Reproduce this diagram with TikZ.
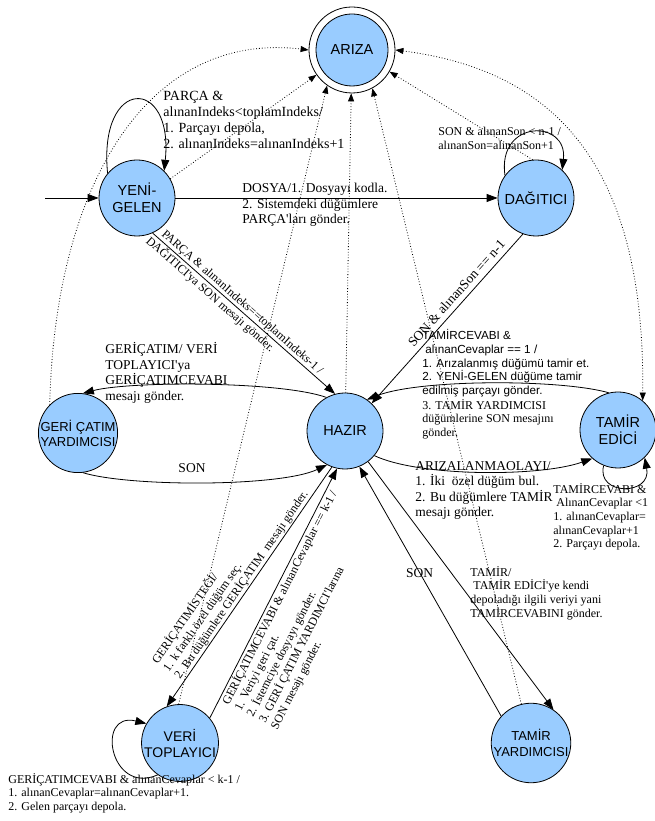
\documentclass[tikz,border=0pt]{standalone}
\usepackage{fontspec}
\setmainfont{Liberation Serif}
\setsansfont{Liberation Sans}
\usepackage{tikz}
\usetikzlibrary{arrows.meta}
\definecolor{stfill}{RGB}{153,204,255}
\def\ap{\textquotesingle}

\begin{document}
\begin{tikzpicture}[x=1pt,y=1pt,line width=0.8pt,
  state/.style={circle, draw, fill=stfill, minimum size=76pt, inner sep=0pt, align=center,
                font=\sffamily\fontsize{14.5}{16.5}\selectfont},
  arr/.style={-{Triangle[length=11pt,width=8pt]}},
  fail/.style={dotted, -{Triangle[length=8pt,width=6pt]}},
  lbl/.style={align=left, inner sep=0pt, font=\fontsize{13.5}{15.5}\selectfont},
  slbl/.style={align=left, inner sep=0pt, font=\fontsize{12}{13.6}\selectfont}]
  \useasboundingbox (0,0) rectangle (655,821);

  %% States
  \node[circle, draw, minimum size=86pt, inner sep=0pt] (ariza) at (352,771) {};
  \node[state, minimum size=72pt] (arizain) at (ariza) {ARIZA};
  \node[state] (yeni) at (137,623) {YENİ-\\GELEN};
  \node[state] (dagitici) at (536,623) {DAĞITICI};
  \node[state] (hazir) at (345,390) {HAZIR};
  \node[state, font=\sffamily\fontsize{13}{15}\selectfont] (geri) at (78,388) {GERİ ÇATIM\\YARDIMCISI};
  \node[state] (tamir) at (618,391) {TAMİR\\EDİCİ};
  \node[state, font=\sffamily\fontsize{14}{16}\selectfont] (veri) at (180,78) {VERİ\\TOPLAYICI};
  \node[state, font=\sffamily\fontsize{13}{16}\selectfont] (tamiry) at (531,78) {TAMİR\\YARDIMCISI};

  %% Start
  \coordinate (init) at (45,623);
  \draw[arr] (init) -- (yeni);

  %% YENİ-GELEN
  \draw[arr] (yeni.140) .. controls (98,745) and (174,745) .. (yeni.45);
  \node[lbl, font=\fontsize{14}{16}\selectfont, anchor=north west] (lyeni) at (163,730)
    {PARÇA \&\\alınanIndeks<toplamIndeks/\\1. Parçayı depola,\\2. alınanIndeks=alınanIndeks+1};
  \draw[arr] (yeni) -- (dagitici);
  \node[lbl, anchor=north west] (ldosya) at (242,638)
    {DOSYA/1. Dosyayı kodla.\\2. Sistemdeki düğümlere\\PARÇA\ap ları gönder.};
  \draw[arr] (yeni.-66)
    -- node[slbl, sloped, pos=0.03, anchor=south west, inner ysep=1pt] {PARÇA \& alınanIndeks==toplamIndeks-1 /}
       node[slbl, sloped, pos=0, anchor=north west, inner ysep=1pt] {DAĞITICI\ap ya SON mesajı gönder.}
    (hazir.105);

  %% DAĞITICI
  \draw[arr] (dagitici.144) .. controls (497,702) and (568,702) .. (dagitici.47);
  \node[slbl, anchor=north west] (ldag) at (438,694)
    {SON \& alınanSon < n-1 /\\alınanSon=alınanSon+1};
  \draw[arr] (dagitici.250)
    -- node[lbl, sloped, pos=0.39, anchor=south, inner ysep=5pt] {SON \& alınanSon == n-1}
    (hazir.46);

  %% GERİ ÇATIM YARDIMCISI
  \draw[arr] (hazir.119) .. controls (280,440) and (130,440) .. (geri.83);
  \node[lbl, anchor=north west] (lgeri) at (105,479)
    {GERİÇATIM/ VERİ\\TOPLAYICI\ap ya\\GERİÇATIMCEVABI\\mesajı gönder.};
  \draw[arr] (geri.-83) .. controls (130,334) and (280,334) .. (hazir.242);
  \node[lbl] (lson) at (192,353) {SON};

  %% TAMİR EDİCİ
  \draw[arr] (tamir.104) .. controls (560,442) and (420,442) .. (hazir.55);
  \node[align=left, inner sep=0pt, font=\sffamily\fontsize{11.7}{13.8}\selectfont, anchor=north west]
    (lcevap) at (422,492)
    {TAMİRCEVABI \&\\\hspace*{3pt}alınanCevaplar == 1 /\\1. Arızalanmış düğümü tamir et.\\2. YENİ-GELEN düğüme tamir\\edilmiş parçayı gönder.};
  \node[slbl, anchor=north west] (lcevap2) at (422,422)
    {3. TAMİR YARDIMCISI\\düğümlerine SON mesajını\\gönder.};
  \draw[arr] (hazir.-40) .. controls (420,344) and (540,344) .. (tamir.228);
  \node[lbl, anchor=north west] (lariza) at (415,360)
    {ARIZALANMAOLAYI/\\1. İki\ \ özel düğüm bul.\\2. Bu düğümlere TAMİR\\mesajı gönder.};
  \draw[arr] (tamir.248) .. controls (596,325) and (652,325) .. (tamir.-46);
  \node[slbl, anchor=north west] (ltamir) at (553,338)
    {TAMİRCEVABI \&\\\hspace*{3pt}AlınanCevaplar <1\\1. alınanCevaplar=\\alınanCevaplar+1\\2. Parçayı depola.};

  %% TAMİR YARDIMCISI
  \draw[arr] (tamiry.138) -- node[lbl, pos=0.575] {SON} (hazir.-68);
  \draw[arr] (hazir.-53) -- (tamiry.56);
  \node[slbl, anchor=north west] (ltamiry) at (470,255)
    {TAMİR/\\\hspace*{3pt}TAMİR EDİCİ\ap ye kendi\\depoladığı ilgili veriyi yani\\TAMİRCEVABINI gönder.};

  %% VERİ TOPLAYICI
  \draw[arr] (hazir.250)
    -- node[slbl, sloped, pos=0.9, anchor=south west, inner ysep=1pt]
       {GERİÇATIMİSTEĞİ/\\1. k farklı özel düğüm seç.\\2. Bu düğümlere GERİÇATIM\ \ mesajı gönder.}
    (veri.110);
  \draw[arr] (veri.40)
    -- node[slbl, sloped, pos=0.07, anchor=north west, inner ysep=1pt]
       {GERİÇATIMCEVABI \& alınanCevaplar == k-1 /\\1. Veriyi geri çat.\\2. İstemciye dosyayı gönder.\\3. GERİ ÇATIM YARDIMCI\ap larına\\SON mesajı gönder.}
    (hazir.258);
  \draw[arr] (veri.235) .. controls (110,25) and (95,110) .. (veri.150);
  \node[slbl, anchor=north west] (lveri) at (8,48)
    {GERİÇATIMCEVABI \& alınanCevaplar < k-1 /\\1. alınanCevaplar=alınanCevaplar+1.\\2. Gelen parçayı depola.};

  %% Failure transitions to ARIZA
  \draw[fail] (geri.135) .. controls (55,640) and (150,790) .. (ariza.180);
  \draw[fail] (yeni.30) -- (ariza.215);
  \draw[fail] (veri.92) -- (ariza.235);
  \draw[fail] (hazir) -- (ariza);
  \draw[fail] (tamiry.104) -- (ariza.-62);
  \draw[fail] (dagitici.95) -- (ariza.-30);
  \draw[dotted, {Triangle[length=8pt,width=6pt]}-{Triangle[length=8pt,width=6pt]}]
    (ariza.0) .. controls (560,750) and (645,650) .. (tamir.50);
\end{tikzpicture}
\end{document}
